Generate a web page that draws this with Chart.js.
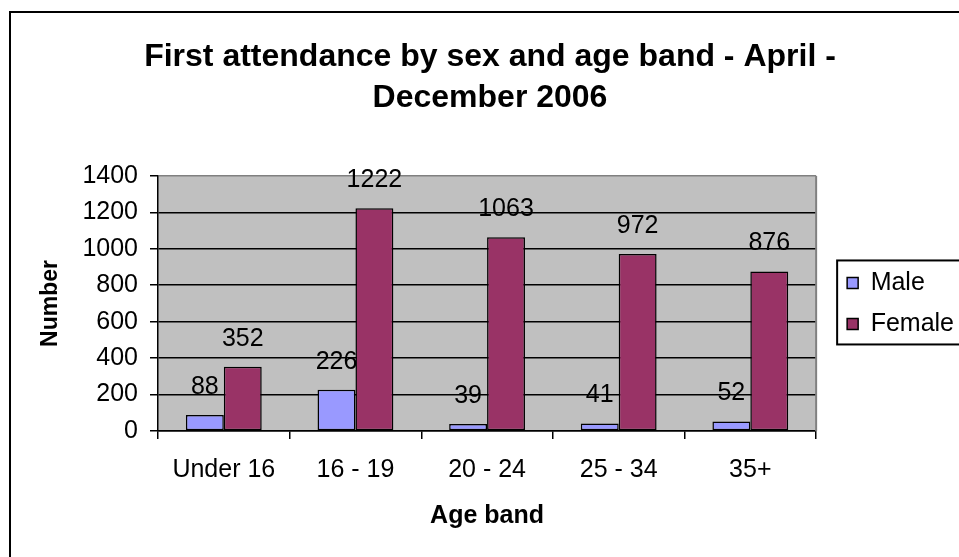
<!DOCTYPE html>
<html><head><meta charset="utf-8">
<script src="https://cdn.jsdelivr.net/npm/chart.js@4/dist/chart.umd.min.js"></script>
<style>html,body{margin:0;padding:0;background:#fff;overflow:hidden}canvas{display:block}</style>
</head><body>
<canvas id="c" width="959" height="557"></canvas>
<script>
const categories = ['Under 16', '16 - 19', '20 - 24', '25 - 34', '35+'];
const maleValues = [88, 226, 39, 41, 52];
const femaleValues = [352, 1222, 1063, 972, 876];
const seriesNames = ['Male', 'Female'];
const seriesColors = ['#9999ff', '#993366'];
const yTicks = [0, 200, 400, 600, 800, 1000, 1200, 1400];
const titleLines = ['First attendance by sex and age band - April -', 'December 2006'];
const xTitle = 'Age band';
const yTitle = 'Number';

Chart.defaults.font.family = '"Liberation Sans", Arial, sans-serif';
Chart.defaults.color = '#000';

const bgPlugin = {
  id: 'bgPlugin',
  beforeDraw(chart) {
    const {ctx, chartArea: a} = chart;
    ctx.save();
    ctx.fillStyle = '#fff';
    ctx.fillRect(0, 0, chart.width, chart.height);
    ctx.fillStyle = '#c0c0c0';
    ctx.fillRect(a.left, a.top, a.right - a.left, a.bottom - a.top);
    ctx.restore();
  },
  beforeDatasetsDraw(chart) {
    const {ctx, chartArea: a} = chart;
    ctx.save();
    ctx.strokeStyle = '#808080';
    ctx.lineWidth = 2;
    ctx.beginPath();
    ctx.moveTo(a.right, a.top);
    ctx.lineTo(a.right, a.bottom);
    ctx.stroke();
    ctx.restore();
  },
  afterDatasetsDraw(chart) {
    const {ctx} = chart;
    ctx.save();
    ctx.font = '25px "Liberation Sans", Arial, sans-serif';
    ctx.fillStyle = '#000';
    ctx.textAlign = 'center';
    ctx.textBaseline = 'middle';
    chart.data.datasets.forEach((ds, i) => {
      const meta = chart.getDatasetMeta(i);
      meta.data.forEach((el, j) => {
        ctx.fillText(String(ds.data[j]), el.x, el.y - 28);
      });
    });
    ctx.restore();
  },
  afterLayout(chart) {
    const lg = chart.legend;
    if (lg) { lg.left += 15; lg.right += 15; }
  },
  afterDraw(chart) {
    const {ctx, chartArea: a} = chart;
    ctx.save();
    ctx.strokeStyle = '#000';
    ctx.lineWidth = 2;
    ctx.strokeRect(10, 12, chart.width + 20, chart.height + 20);
    const lg = chart.legend;
    const midY = (a.top + a.bottom) / 2;
    ctx.strokeRect(lg.left + 6, midY - 43, 300, 84);
    ctx.restore();
  }
};

new Chart(document.getElementById('c'), {
  type: 'bar',
  data: {
    labels: categories,
    datasets: [
      {label: seriesNames[0], data: maleValues, backgroundColor: seriesColors[0], borderColor: '#000', borderWidth: 1.5, borderSkipped: false},
      {label: seriesNames[1], data: femaleValues, backgroundColor: seriesColors[1], borderColor: '#000', borderWidth: 1.5, borderSkipped: false}
    ]
  },
  options: {
    responsive: false,
    animation: false,
    devicePixelRatio: 1,
    layout: {padding: {left: 31, right: 10, top: 0, bottom: 0}},
    datasets: {bar: {categoryPercentage: 0.576, barPercentage: 1}},
    plugins: {
      title: {
        display: true,
        text: titleLines,
        color: '#000',
        font: {size: 32, weight: 'bold', lineHeight: 1.28},
        padding: {top: 36.5, bottom: 57.5}
      },
      legend: {
        position: 'right',
        fullSize: false,
        align: 'center',
        labels: {font: {size: 25}, color: '#000', boxWidth: 11, boxHeight: 11, padding: 16}
      },
      tooltip: {enabled: false}
    },
    scales: {
      x: {
        grid: {display: true, drawOnChartArea: false, drawTicks: true, tickLength: 8, color: '#000', lineWidth: 1.5, offset: true},
        border: {display: true, color: '#000', width: 1.5},
        ticks: {font: {size: 25}, color: '#000', padding: 16, maxRotation: 0, autoSkip: false},
        title: {display: true, text: xTitle, color: '#000', font: {size: 25, weight: 'bold', lineHeight: 1.2}, padding: {top: 0, bottom: 26}},
        afterFit(s) { s.height = 126; }
      },
      y: {
        min: 0,
        max: 1400,
        afterBuildTicks(s) { s.ticks = yTicks.map(v => ({value: v})); },
        grid: {color: c => (c.tick && c.tick.value === 1400 ? '#808080' : '#000'), tickColor: '#000', lineWidth: 1.5, tickLength: 8},
        border: {display: true, color: '#000', width: 1.5},
        ticks: {font: {size: 25}, color: '#000', padding: 12, callback: v => String(v)},
        title: {display: true, text: yTitle, color: '#000', font: {size: 23, weight: 'bold', lineHeight: 1.2}, padding: {top: 6, bottom: 0}},
        afterFit(s) { s.width = 127; }
      }
    }
  },
  plugins: [bgPlugin]
});
</script>
</body></html>
